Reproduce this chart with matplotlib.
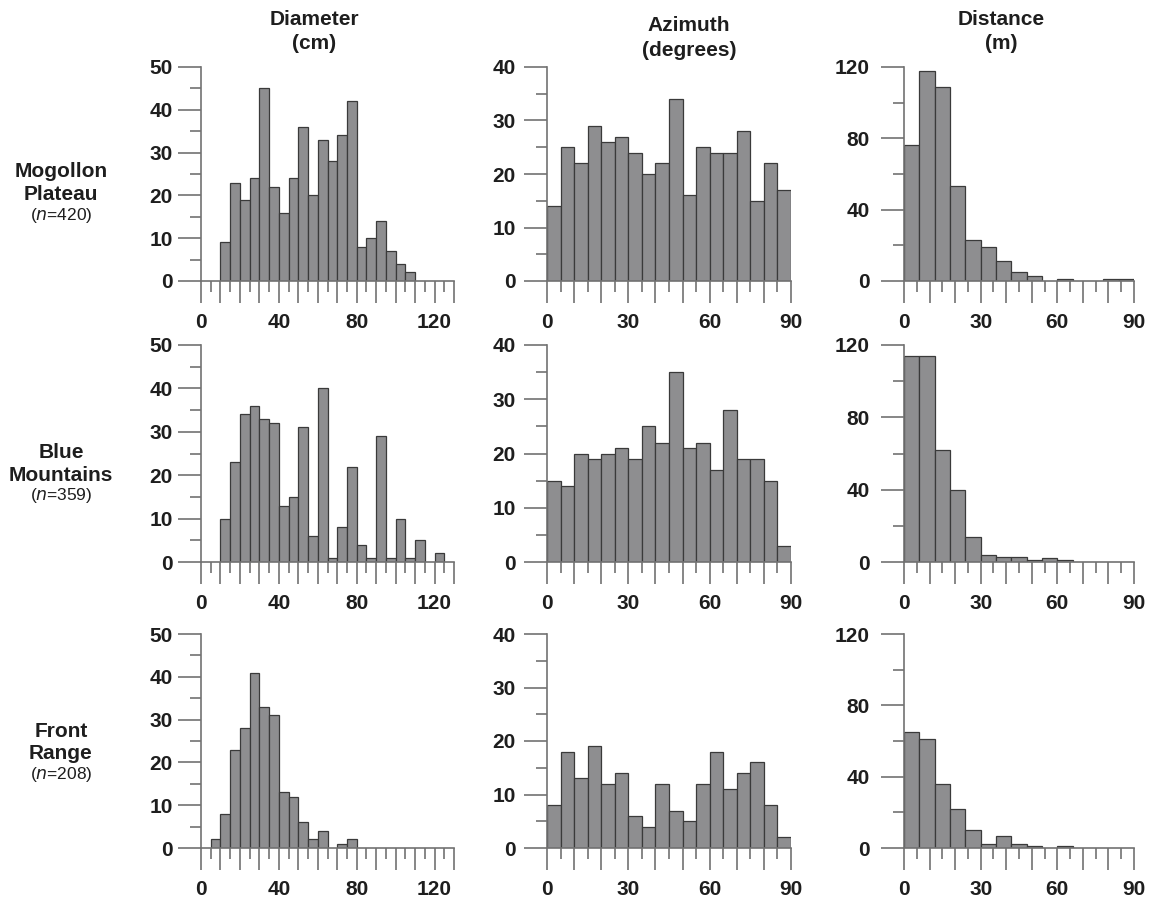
import numpy as np
import matplotlib
matplotlib.use("Agg")
import matplotlib.pyplot as plt

# ============================================================
# Data (counts per bin)
# ============================================================
DIAM_EDGES = np.arange(0, 131, 5)     # cm, 5 cm bins
AZIM_EDGES = np.arange(0, 91, 5)      # degrees, 5 degree bins
DIST_EDGES = np.arange(0, 91, 6)      # m, 6 m bins

diam_mogollon = [0, 0, 9, 23, 19, 24, 45, 22, 16, 24, 36, 20, 33, 28, 34, 42,
                 8, 10, 14, 7, 4, 2, 0, 0, 0, 0]
diam_blue = [0, 0, 10, 23, 34, 36, 33, 32, 13, 15, 31, 6, 40, 1, 8, 22,
             4, 1, 29, 1, 10, 1, 5, 0, 2, 0]
diam_front = [0, 2, 8, 23, 28, 41, 33, 31, 13, 12, 6, 2, 4, 0, 1, 2,
              0, 0, 0, 0, 0, 0, 0, 0, 0, 0]

azim_mogollon = [14, 25, 22, 29, 26, 27, 24, 20, 22, 34, 16, 25, 24, 24, 28, 15, 22, 17]
azim_blue = [15, 14, 20, 19, 20, 21, 19, 25, 22, 35, 21, 22, 17, 28, 19, 19, 15, 3]
azim_front = [8, 18, 13, 19, 12, 14, 6, 4, 12, 7, 5, 12, 18, 11, 14, 16, 8, 2]

dist_mogollon = [76, 118, 109, 53, 23, 19, 11, 5, 3, 0, 1, 0, 0, 1, 1]
dist_blue = [114, 114, 62, 40, 14, 4, 3, 3, 1, 2, 1, 0, 0, 0, 0]
dist_front = [65, 61, 36, 22, 10, 2, 7, 2, 1, 0, 1, 0, 0, 0, 0]

sites = ["Mogollon\nPlateau", "Blue\nMountains", "Front\nRange"]
site_n = [420, 359, 208]
col_titles = [("Diameter", "(cm)"), ("Azimuth", "(degrees)"), ("Distance", "(m)")]

# ============================================================
# Style
# ============================================================
plt.rcParams["font.family"] = ["Liberation Sans", "DejaVu Sans"]
BAR_FC = "#8e8e90"
BAR_EC = "#3a3a3a"
AX_C = "#727272"
TXT_C = "#1e1e1e"
TICK_FS = 15

W, H = 1155, 900
fig = plt.figure(figsize=(W / 100, H / 100), dpi=100)

# axes boxes in pixels: (left, right) per column, (top, bottom) per row
COLS = [(201, 454), (547, 791), (904, 1134)]
ROWS = [(67, 281), (345, 562), (634, 848)]

# per column axis setup
COL_SPEC = [
    dict(edges=DIAM_EDGES, xlim=130, xmaj=np.arange(0, 131, 10), xlab=[0, 40, 80, 120],
         xmin=np.arange(5, 130, 10), ylim=50, ymaj=np.arange(0, 51, 10),
         ymin=np.arange(5, 50, 10), ypad=4),
    dict(edges=AZIM_EDGES, xlim=90, xmaj=np.arange(0, 91, 10), xlab=[0, 30, 60, 90],
         xmin=np.arange(5, 90, 10), ylim=40, ymaj=np.arange(0, 41, 10),
         ymin=np.arange(5, 40, 10), ypad=6),
    dict(edges=DIST_EDGES, xlim=90, xmaj=np.arange(0, 91, 10), xlab=[0, 30, 60, 90],
         xmin=np.arange(5, 90, 10), ylim=120, ymaj=np.arange(0, 121, 40),
         ymin=np.arange(20, 120, 40), ypad=8),
]

DATA = [
    [diam_mogollon, azim_mogollon, dist_mogollon],
    [diam_blue, azim_blue, dist_blue],
    [diam_front, azim_front, dist_front],
]


def px_box(col, row):
    l, r = COLS[col]
    t, b = ROWS[row]
    return [l / W, 1 - b / H, (r - l) / W, (b - t) / H]


def draw_hist(ax, counts, spec):
    edges = spec["edges"]
    counts = np.asarray(counts)
    keep = counts > 0
    widths = np.diff(edges)
    ax.bar(edges[:-1][keep], counts[keep], width=widths[keep], align="edge",
           color=BAR_FC, edgecolor=BAR_EC, linewidth=0.9, zorder=2)

    ax.set_xlim(0, spec["xlim"])
    ax.set_ylim(0, spec["ylim"])

    for s in ["top", "right"]:
        ax.spines[s].set_visible(False)
    for s in ["left", "bottom"]:
        ax.spines[s].set_color(AX_C)
        ax.spines[s].set_linewidth(1.2)
        ax.spines[s].set_zorder(3)

    ax.set_xticks(spec["xmaj"])
    ax.set_xticklabels([str(v) if v in spec["xlab"] else "" for v in spec["xmaj"]])
    ax.set_xticks(spec["xmin"], minor=True)
    ax.set_yticks(spec["ymaj"])
    ax.set_yticks(spec["ymin"], minor=True)

    ax.tick_params(axis="x", which="major", direction="out", length=16, width=1.2,
                   color=AX_C, pad=7)
    ax.tick_params(axis="x", which="minor", direction="out", length=8, width=1.2,
                   color=AX_C)
    ax.tick_params(axis="y", which="major", direction="out", length=16.5, width=1.2,
                   color=AX_C, pad=spec["ypad"])
    ax.tick_params(axis="y", which="minor", direction="out", length=8, width=1.2,
                   color=AX_C)
    for lab in ax.get_xticklabels() + ax.get_yticklabels():
        lab.set_fontsize(TICK_FS)
        lab.set_fontweight("bold")
        lab.set_color(TXT_C)
    ax.set_facecolor("none")


for r in range(3):
    for c in range(3):
        ax = fig.add_axes(px_box(c, r))
        draw_hist(ax, DATA[r][c], COL_SPEC[c])

# column titles (two lines each)
title_x = [314, 689, 1001]
title_base = [(25, 49), (31, 56), (25, 49)]
for (l1, l2), x, (b1, b2) in zip(col_titles, title_x, title_base):
    fig.text(x / W, 1 - b1 / H, l1, ha="center", va="baseline",
             fontsize=15, fontweight="bold", color=TXT_C)
    fig.text(x / W, 1 - b2 / H, l2, ha="center", va="baseline",
             fontsize=15, fontweight="bold", color=TXT_C)

# row labels
row_base = [(177, 200, 220), (458, 481, 500), (737, 759, 779)]
for name, n, (b1, b2, b3) in zip(sites, site_n, row_base):
    a, b = name.split("\n")
    fig.text(61 / W, 1 - b1 / H, a, ha="center", va="baseline",
             fontsize=15, fontweight="bold", color=TXT_C)
    fig.text(61 / W, 1 - b2 / H, b, ha="center", va="baseline",
             fontsize=15, fontweight="bold", color=TXT_C)
    fig.text(61 / W, 1 - b3 / H, r"($\mathit{n}$=%d)" % n, ha="center", va="baseline",
             fontsize=12.5, color=TXT_C)

fig.savefig("out.png", dpi=100, facecolor="white")
